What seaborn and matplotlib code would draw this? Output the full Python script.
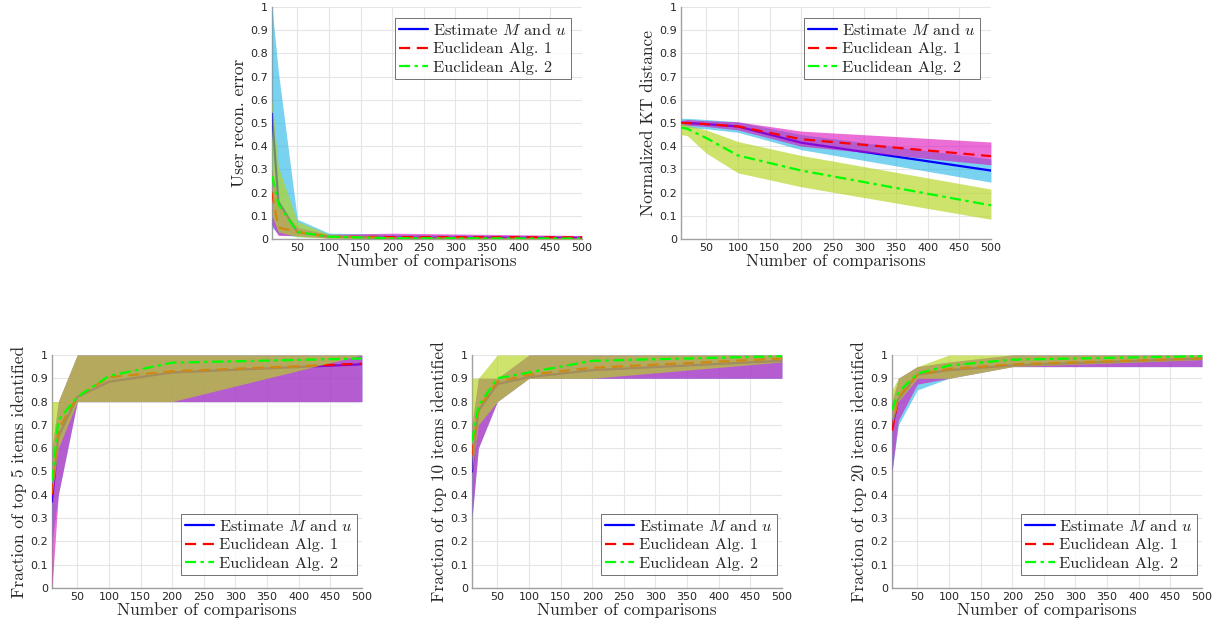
import numpy as np
import matplotlib
matplotlib.use("Agg")
import matplotlib.pyplot as plt
import seaborn as sns

sns.set_style("white")
plt.rcParams["mathtext.fontset"] = "cm"

# number of comparisons
n_comp = [10, 20, 50, 100, 200, 500]

# user reconstruction error
err_est = [0.54, 0.16, 0.03, 0.01, 0.005, 0.005]
err_est_lo = [0.05, 0.02, 0.01, 0.005, 0.002, 0.002]
err_est_hi = [1.0, 0.72, 0.085, 0.025, 0.02, 0.012]
err_e1 = [0.2, 0.05, 0.03, 0.01, 0.008, 0.007]
err_e1_lo = [0.06, 0.015, 0.015, 0.004, 0.003, 0.002]
err_e1_hi = [0.3, 0.15, 0.05, 0.02, 0.025, 0.015]
err_e2 = [0.27, 0.15, 0.03, 0.01, 0.003, 0.002]
err_e2_lo = [0.1, 0.03, 0.01, 0.003, 0.001, 0.0]
err_e2_hi = [0.6, 0.31, 0.075, 0.02, 0.01, 0.005]

# normalized KT distance
kt_est = [0.50, 0.50, 0.495, 0.485, 0.415, 0.295]
kt_est_lo = [0.48, 0.48, 0.475, 0.46, 0.385, 0.245]
kt_est_hi = [0.52, 0.52, 0.515, 0.505, 0.45, 0.345]
kt_e1 = [0.50, 0.50, 0.495, 0.485, 0.43, 0.357]
kt_e1_lo = [0.49, 0.49, 0.485, 0.47, 0.40, 0.32]
kt_e1_hi = [0.51, 0.515, 0.51, 0.505, 0.465, 0.418]
kt_e2 = [0.48, 0.475, 0.435, 0.36, 0.295, 0.145]
kt_e2_lo = [0.45, 0.445, 0.37, 0.285, 0.225, 0.085]
kt_e2_hi = [0.50, 0.49, 0.47, 0.42, 0.36, 0.215]

# fraction of top 5
t5_est = [0.37, 0.65, 0.82, 0.885, 0.925, 0.96]
t5_est_lo = [0.2, 0.4, 0.8, 0.8, 0.8, 0.8]
t5_est_hi = [0.6, 0.8, 1.0, 1.0, 1.0, 1.0]
t5_e1 = [0.40, 0.68, 0.82, 0.905, 0.93, 0.963]
t5_e1_lo = [0.0, 0.4, 0.8, 0.8, 0.8, 0.8]
t5_e1_hi = [0.6, 0.8, 1.0, 1.0, 1.0, 1.0]
t5_e2 = [0.46, 0.72, 0.82, 0.91, 0.967, 0.985]
t5_e2_lo = [0.4, 0.6, 0.8, 0.8, 0.8, 1.0]
t5_e2_hi = [0.8, 0.8, 1.0, 1.0, 1.0, 1.0]

# fraction of top 10
t10_est = [0.50, 0.76, 0.875, 0.905, 0.935, 0.975]
t10_est_lo = [0.3, 0.6, 0.8, 0.9, 0.9, 0.9]
t10_est_hi = [0.7, 0.9, 0.9, 1.0, 1.0, 1.0]
t10_e1 = [0.57, 0.77, 0.885, 0.915, 0.945, 0.985]
t10_e1_lo = [0.3, 0.6, 0.8, 0.9, 0.9, 0.9]
t10_e1_hi = [0.7, 0.9, 0.9, 1.0, 1.0, 1.0]
t10_e2 = [0.63, 0.78, 0.90, 0.925, 0.975, 0.995]
t10_e2_lo = [0.5, 0.7, 0.8, 0.9, 0.9, 0.97]
t10_e2_hi = [0.9, 0.9, 1.0, 1.0, 1.0, 1.0]

# fraction of top 20
t20_est = [0.69, 0.81, 0.915, 0.935, 0.955, 0.985]
t20_est_lo = [0.5, 0.7, 0.85, 0.9, 0.95, 0.95]
t20_est_hi = [0.8, 0.9, 0.95, 0.97, 1.0, 1.0]
t20_e1 = [0.675, 0.82, 0.915, 0.94, 0.96, 0.985]
t20_e1_lo = [0.5, 0.72, 0.875, 0.9, 0.95, 0.95]
t20_e1_hi = [0.8, 0.9, 0.95, 0.97, 1.0, 1.0]
t20_e2 = [0.765, 0.84, 0.92, 0.955, 0.98, 0.995]
t20_e2_lo = [0.7, 0.8, 0.9, 0.9, 0.95, 0.98]
t20_e2_hi = [0.85, 0.9, 0.95, 1.0, 1.0, 1.0]

labels = ["Estimate $M$ and $u$", "Euclidean Alg. 1", "Euclidean Alg. 2"]
line_colors = ["#0000ff", "#ff0000", "#00ff00"]
line_styles = ["-", (0, (5, 3)), (0, (5, 2, 1.5, 2))]
fill_colors = ["#1eb4e6", "#de0dbc", "#b4d41e"]
fill_alpha = [0.6, 0.6, 0.65]

label_font = {"family": "cmr10", "size": 12.5}

panels = [
    ([0.2239, 0.6164, 0.2551, 0.3724], "User recon. error",
     [(err_est, err_est_lo, err_est_hi), (err_e1, err_e1_lo, err_e1_hi), (err_e2, err_e2_lo, err_e2_hi)],
     "upper right", (0.98, 0.975)),
    ([0.5605, 0.6164, 0.2551, 0.3724], "Normalized KT distance",
     [(kt_est, kt_est_lo, kt_est_hi), (kt_e1, kt_e1_lo, kt_e1_hi), (kt_e2, kt_e2_lo, kt_e2_hi)],
     "upper right", (0.98, 0.975)),
    ([0.0428, 0.0562, 0.2551, 0.374], "Fraction of top 5 items identified",
     [(t5_est, t5_est_lo, t5_est_hi), (t5_e1, t5_e1_lo, t5_e1_hi), (t5_e2, t5_e2_lo, t5_e2_hi)],
     "lower right", (1.0, 0.035)),
    ([0.3885, 0.0562, 0.2551, 0.374], "Fraction of top 10 items identified",
     [(t10_est, t10_est_lo, t10_est_hi), (t10_e1, t10_e1_lo, t10_e1_hi), (t10_e2, t10_e2_lo, t10_e2_hi)],
     "lower right", (1.0, 0.035)),
    ([0.7342, 0.0562, 0.2551, 0.374], "Fraction of top 20 items identified",
     [(t20_est, t20_est_lo, t20_est_hi), (t20_e1, t20_e1_lo, t20_e1_hi), (t20_e2, t20_e2_lo, t20_e2_hi)],
     "lower right", (1.0, 0.035)),
]

fig = plt.figure(figsize=(12.15, 6.23), dpi=100)

for rect, ylab, series, loc, anchor in panels:
    ax = fig.add_axes(rect)
    for i, (mean, lo, hi) in enumerate(series):
        # each band sits above the previous series' line, as in the original
        ax.fill_between(n_comp, lo, hi, color=fill_colors[i], alpha=fill_alpha[i],
                        linewidth=0, zorder=3 + 2 * i)
        sns.lineplot(x=n_comp, y=mean, ax=ax, color=line_colors[i], linestyle=line_styles[i],
                     linewidth=1.6, label=labels[i], zorder=4 + 2 * i)
    ax.set_xlim(10, 500)
    ax.set_ylim(0, 1)
    ax.set_xticks(np.arange(50, 501, 50))
    ax.set_yticks(np.arange(0, 1.01, 0.1))
    ax.set_yticklabels(["0"] + ["%.1f" % v for v in np.arange(0.1, 0.95, 0.1)] + ["1"])
    ax.grid(True, color="#e6e6e6", linewidth=0.8)
    ax.set_axisbelow(True)
    for s in ["top", "right"]:
        ax.spines[s].set_visible(False)
    for s in ["left", "bottom"]:
        ax.spines[s].set_color("#a0a0a0")
        ax.spines[s].set_linewidth(1.0)
    ax.tick_params(axis="both", direction="in", length=3, width=0.6, color="#a0a0a0",
                   labelsize=8, labelcolor="#262626", pad=3)
    for t in ax.get_xticklabels() + ax.get_yticklabels():
        t.set_family("DejaVu Sans")
    ax.set_xlabel("Number of comparisons", fontdict=label_font, labelpad=0)
    ax.set_ylabel(ylab, fontdict=label_font, labelpad=2)
    leg = ax.legend(loc=loc, bbox_to_anchor=anchor, prop={"family": "cmr10", "size": 11.8},
                    frameon=True, fancybox=False, edgecolor="#333333", borderpad=0.25,
                    labelspacing=0.25, handlelength=1.8, handletextpad=0.3, borderaxespad=0.3)
    leg.get_frame().set_linewidth(0.6)
    leg.set_zorder(20)

fig.savefig("out.png", dpi=100)
